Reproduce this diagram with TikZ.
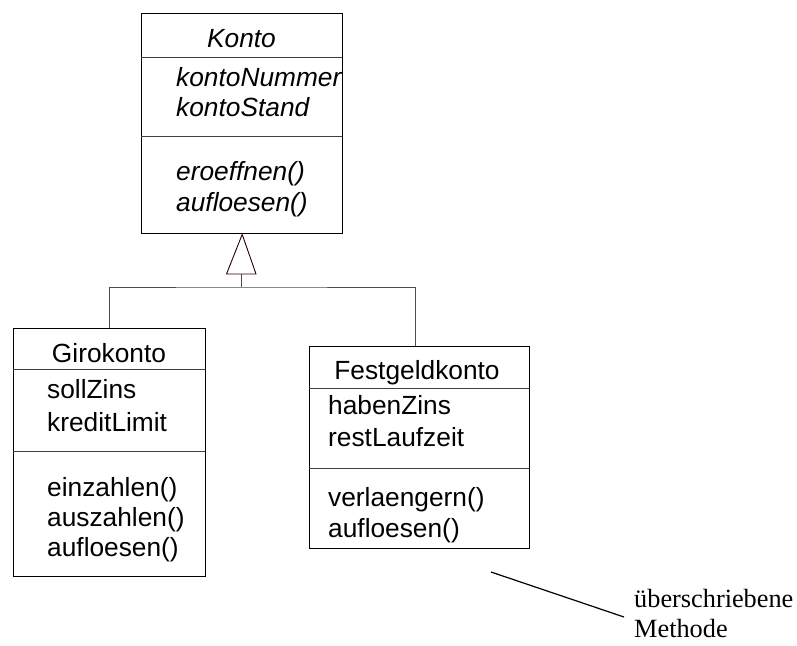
\documentclass[tikz,border=0pt]{standalone}
\usepackage{fontspec}
\setmainfont{Liberation Serif}
\newfontfamily\umlfont{Liberation Sans}
\begin{document}
\begin{tikzpicture}[x=1pt,y=-1pt,
  classbox/.style={draw=black,line width=1.4pt,rectangle,inner sep=0pt,anchor=north west},
  divider/.style={draw=black!75,line width=0.9pt},
  link/.style={draw=black!70,line width=0.9pt},
  umltext/.style={font=\umlfont\fontsize{26.3}{30}\selectfont,inner sep=0pt},
  member/.style={umltext,anchor=base west},
  title/.style={umltext,anchor=base},
  abstracttext/.style={font=\umlfont\itshape\fontsize{26.3}{30}\selectfont},
  notetext/.style={font=\fontsize{26.3}{30}\selectfont,inner sep=0pt,anchor=base west}]
\useasboundingbox (0,0) rectangle (797,645);

% abstract base class
\node[classbox,minimum width=201pt,minimum height=220pt] (konto) at (141,13) {};
\draw[divider] (141,57) -- (342,57);
\draw[divider] (141,136) -- (342,136);
\node[title,abstracttext] (kontoname) at (241.5,47) {Konto};
\node[member,abstracttext] (kontoa1) at (176,86) {kontoNummer};
\node[member,abstracttext] (kontoa2) at (176,116) {kontoStand};
\node[member,abstracttext] (kontom1) at (176,180) {eroeffnen()};
\node[member,abstracttext] (kontom2) at (176,211) {aufloesen()};

% Girokonto
\node[classbox,minimum width=192pt,minimum height=248pt] (giro) at (13,328) {};
\draw[divider] (13,369) -- (205,369);
\draw[divider] (13,451) -- (205,451);
\node[title] (gironame) at (109,362) {Girokonto};
\node[member] (giroa1) at (47,398) {sollZins};
\node[member] (giroa2) at (47,431) {kreditLimit};
\node[member] (girom1) at (47,496) {einzahlen()};
\node[member] (girom2) at (47,526) {auszahlen()};
\node[member] (girom3) at (47,556) {aufloesen()};

% Festgeldkonto
\node[classbox,minimum width=220pt,minimum height=202pt] (fest) at (309,346) {};
\draw[divider] (309,388) -- (529,388);
\draw[divider] (309,468) -- (529,468);
\node[title] (festname) at (417,379) {Festgeldkonto};
\node[member] (festa1) at (328,414) {habenZins};
\node[member] (festa2) at (328,446) {restLaufzeit};
\node[member] (festm1) at (328,506) {verlaengern()};
\node[member] (festm2) at (328,537) {aufloesen()};

% generalization
\coordinate (tribase) at (241,274);
\coordinate (junction) at (241,287);
\draw[draw=black!60!red!40!black,line width=0.9pt] (konto.south) -- (226.5,274) -- (256,274) -- cycle;
\draw[link] (tribase) -- (junction);
\draw[link] (giro.north) |- (junction) -| (415,346);

% annotation
\node[notetext] (note1) at (634,607) {überschriebene};
\node[notetext] (note2) at (634,637) {Methode};
\coordinate (notestart) at (491,572);
\coordinate (noteend) at (624,617);
\draw[line width=1.2pt] (notestart) -- (noteend);
\end{tikzpicture}
\end{document}
